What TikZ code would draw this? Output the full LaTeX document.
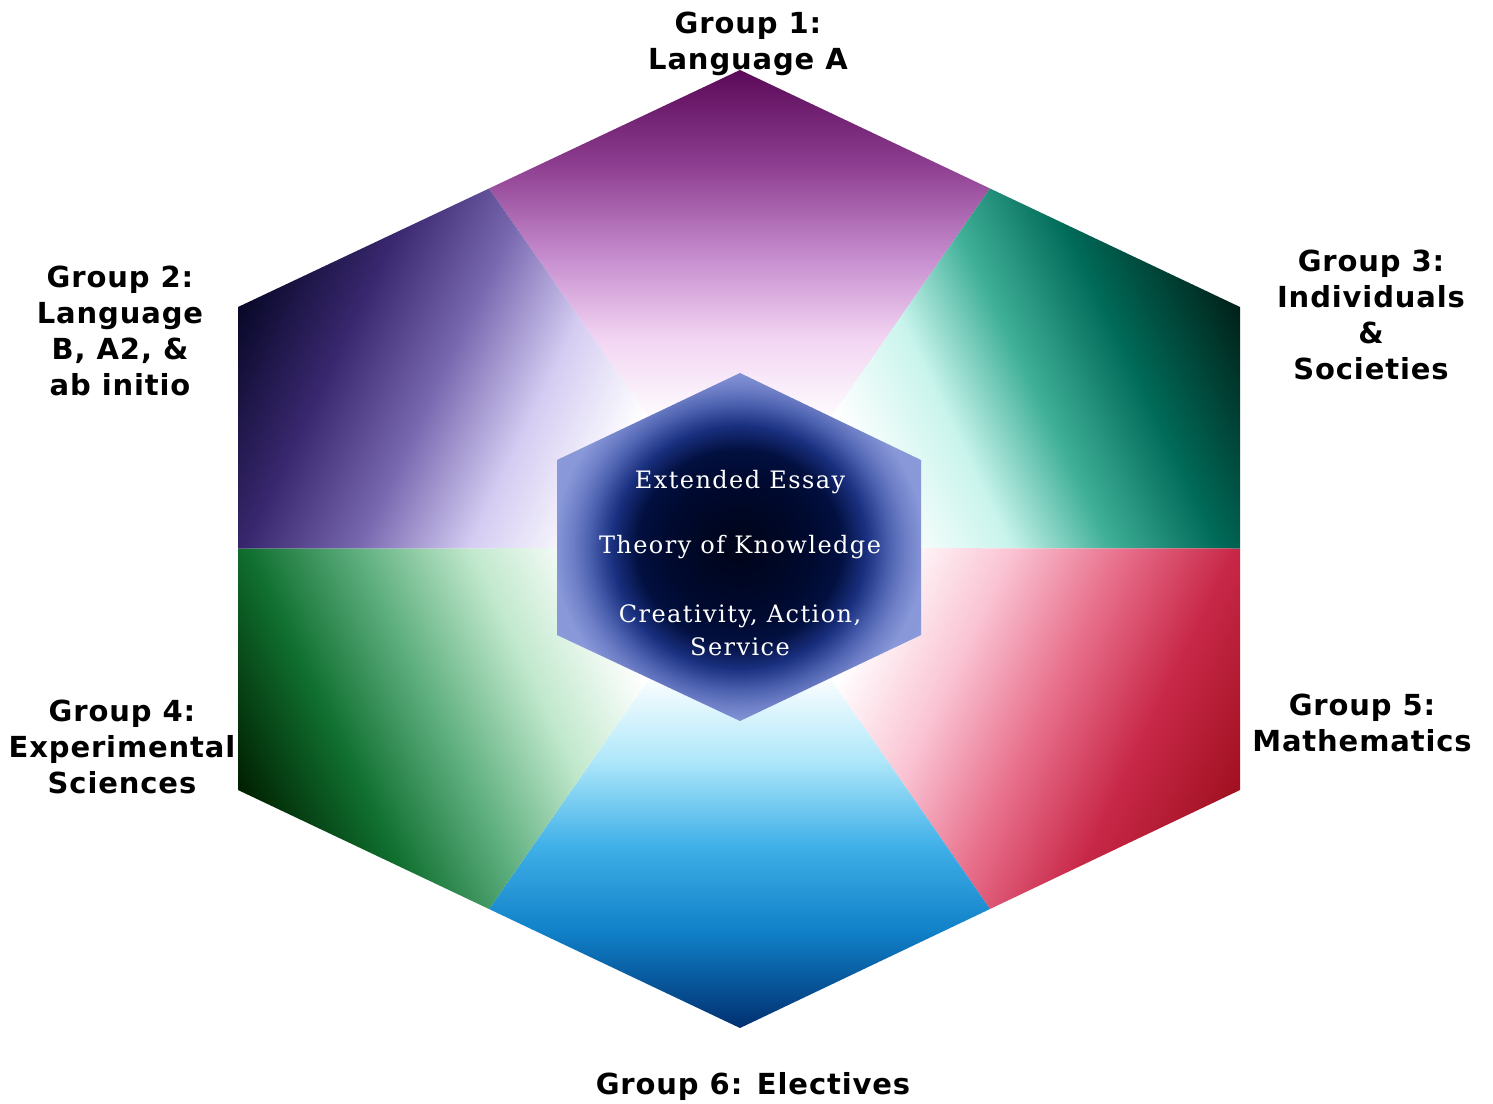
\documentclass[tikz,border=0pt]{standalone}
\usepackage{fontspec}
\newfontfamily\labfont{DejaVu Sans}[LetterSpace=3]
\newfontfamily\corefont{DejaVu Serif}[LetterSpace=6]
\definecolor{pT1}{HTML}{F2D4F2}\definecolor{pT2}{HTML}{C890D0}\definecolor{pT3}{HTML}{8E3E90}\definecolor{pT4}{HTML}{5A0A58}
\definecolor{pI1}{HTML}{D4CCF2}\definecolor{pI2}{HTML}{7868B0}\definecolor{pI3}{HTML}{3A2870}\definecolor{pI4}{HTML}{080828}
\definecolor{pG1}{HTML}{C8F4EC}\definecolor{pG2}{HTML}{40B098}\definecolor{pG3}{HTML}{006A58}\definecolor{pG4}{HTML}{002018}
\definecolor{pR1}{HTML}{FAC4D4}\definecolor{pR2}{HTML}{E8708C}\definecolor{pR3}{HTML}{C82848}\definecolor{pR4}{HTML}{A01020}
\definecolor{pB1}{HTML}{B0E8FA}\definecolor{pB2}{HTML}{40B0E8}\definecolor{pB3}{HTML}{1080C8}\definecolor{pB4}{HTML}{003070}
\definecolor{pE1}{HTML}{C0E8CC}\definecolor{pE2}{HTML}{60B080}\definecolor{pE3}{HTML}{107030}\definecolor{pE4}{HTML}{002000}
\definecolor{k0}{HTML}{000418}\definecolor{k1}{HTML}{000A30}\definecolor{k2}{HTML}{021040}\definecolor{k3}{HTML}{1A3080}\definecolor{k4}{HTML}{4A60AE}\definecolor{k5}{HTML}{7080C8}\definecolor{k6}{HTML}{8898D8}\definecolor{k7}{HTML}{94A4E0}
% TikZ maps the 25bp..75bp part of a shading onto the path's bounding box (600px square here)
\pgfdeclarehorizontalshading{shT}{100bp}{color(0bp)=(white); color(35.4bp)=(white); color(42.5bp)=(pT1); color(48.9bp)=(pT2); color(56.9bp)=(pT3); color(64.8bp)=(pT4); color(100bp)=(pT4)}
\pgfdeclarehorizontalshading{shB}{100bp}{color(0bp)=(white); color(35.4bp)=(white); color(42.6bp)=(pB1); color(49.8bp)=(pB2); color(57bp)=(pB3); color(65bp)=(pB4); color(100bp)=(pB4)}
\pgfdeclarehorizontalshading{shI}{100bp}{color(0bp)=(white); color(37bp)=(white); color(45.4bp)=(pI1); color(53.7bp)=(pI2); color(62.1bp)=(pI3); color(71.3bp)=(pI4); color(100bp)=(pI4)}
\pgfdeclarehorizontalshading{shG}{100bp}{color(0bp)=(white); color(37bp)=(white); color(45.4bp)=(pG1); color(52.8bp)=(pG2); color(61.1bp)=(pG3); color(71.3bp)=(pG4); color(100bp)=(pG4)}
\pgfdeclarehorizontalshading{shR}{100bp}{color(0bp)=(white); color(37bp)=(white); color(45.4bp)=(pR1); color(53.7bp)=(pR2); color(62.1bp)=(pR3); color(71.3bp)=(pR4); color(100bp)=(pR4)}
\pgfdeclarehorizontalshading{shE}{100bp}{color(0bp)=(white); color(37bp)=(white); color(45.4bp)=(pE1); color(53.7bp)=(pE2); color(62.1bp)=(pE3); color(71.3bp)=(pE4); color(100bp)=(pE4)}
\pgfdeclareradialshading{shK}{\pgfpoint{0bp}{0bp}}{color(0bp)=(k0); color(10bp)=(k1); color(14bp)=(k2); color(17.5bp)=(k3); color(20.5bp)=(k4); color(23bp)=(k5); color(25.5bp)=(k6); color(50bp)=(k7)}
\tikzset{
  grouplabel/.style={align=center, inner sep=0pt, text=black,
    font=\labfont\bfseries\fontsize{29}{36}\selectfont},
  corelabel/.style={align=center, inner sep=0pt, text=white,
    font=\corefont\fontsize{24}{33}\selectfont}
}
\begin{document}
\begin{tikzpicture}[x=1pt,y=-1pt]
\useasboundingbox (0,0) rectangle (1493,1103);
\fill[white] (0,0) rectangle (1493,1103);
% outer hexagon geometry
\coordinate (C) at (740,548);
\coordinate (T) at (740,70);
\coordinate (UR) at (1240,307);
\coordinate (LR) at (1240,790);
\coordinate (B) at (740,1028);
\coordinate (LL) at (238,790);
\coordinate (UL) at (238,307);
\coordinate (Mtl) at (489,188.5);
\coordinate (Mtr) at (990,188.5);
\coordinate (Mr) at (1240,548.5);
\coordinate (Mbr) at (990,909);
\coordinate (Mbl) at (489,909);
\coordinate (Ml) at (238,548.5);
% sectors
\begin{scope}
\clip (C) -- (Mtl) -- (T) -- (Mtr) -- cycle;
\begin{scope}[transform canvas={shift={(C)}, rotate=90}]
\shade[shading=shT] (0,-300) rectangle (600,300);
\end{scope}
\end{scope}
\begin{scope}
\clip (C) -- (Mtr) -- (UR) -- (Mr) -- cycle;
\begin{scope}[transform canvas={shift={(C)}, rotate=25.73}]
\shade[shading=shG] (0,-300) rectangle (600,300);
\end{scope}
\end{scope}
\begin{scope}
\clip (C) -- (Mr) -- (LR) -- (Mbr) -- cycle;
\begin{scope}[transform canvas={shift={(C)}, rotate=-25.8}]
\shade[shading=shR] (0,-300) rectangle (600,300);
\end{scope}
\end{scope}
\begin{scope}
\clip (C) -- (Mbr) -- (B) -- (Mbl) -- cycle;
\begin{scope}[transform canvas={shift={(C)}, rotate=-90}]
\shade[shading=shB] (0,-300) rectangle (600,300);
\end{scope}
\end{scope}
\begin{scope}
\clip (C) -- (Mbl) -- (LL) -- (Ml) -- cycle;
\begin{scope}[transform canvas={shift={(C)}, rotate=205.7}]
\shade[shading=shE] (0,-300) rectangle (600,300);
\end{scope}
\end{scope}
\begin{scope}
\clip (C) -- (Ml) -- (UL) -- (Mtl) -- cycle;
\begin{scope}[transform canvas={shift={(C)}, rotate=154.3}]
\shade[shading=shI] (0,-300) rectangle (600,300);
\end{scope}
\end{scope}
% inner hexagon
\shade[shading=shK] (740,373) -- (921,460) -- (921,635) -- (740,721) -- (557,635) -- (557,460) -- cycle;
\node[corelabel] (ee) at (740,482) {Extended Essay};
\node[corelabel] (tok) at (740,547) {Theory of Knowledge};
\node[corelabel] (cas) at (740,630) {Creativity, Action,\\Service};
% group labels
\node[grouplabel] (g1) at (748,44) {Group 1:\\Language A};
\node[grouplabel] (g2) at (120,331) {Group 2:\\Language\\B, A2, \&\\ab initio};
\node[grouplabel] (g3) at (1371,315) {Group 3:\\Individuals\\\&\\Societies};
\node[grouplabel] (g4) at (122,747) {Group 4:\\Experimental\\Sciences};
\node[grouplabel] (g5) at (1362,723) {Group 5:\\Mathematics};
\node[grouplabel] (g6) at (753,1086) {Group 6: Electives};
\end{tikzpicture}
\end{document}
